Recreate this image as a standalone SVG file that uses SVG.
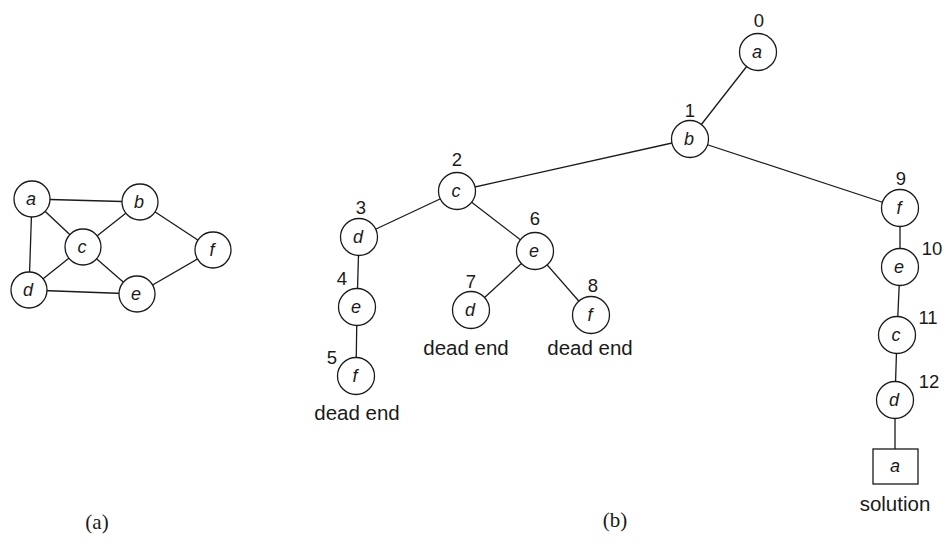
<svg xmlns="http://www.w3.org/2000/svg" width="950" height="552" viewBox="0 0 950 552">
<style>
.e{stroke:#1a1a1a;stroke-width:1.3;fill:none}
.n{fill:#fff;stroke:#1a1a1a;stroke-width:1.3}
.l{font-family:"Liberation Sans",Arial,sans-serif;font-style:italic;font-size:18px;fill:#1a1a1a;text-anchor:middle}
.k{font-family:"Liberation Sans",Arial,sans-serif;font-size:18.5px;fill:#1a1a1a;text-anchor:middle}
.t{font-family:"Liberation Sans",Arial,sans-serif;font-size:20.5px;fill:#1a1a1a;text-anchor:middle}
.c{font-family:"Liberation Serif","Times New Roman",serif;font-size:21px;fill:#1a1a1a;text-anchor:middle}
</style>
<rect width="950" height="552" fill="#fff"/>
<g id="connectors">
<line class="e" x1="32" y1="199" x2="140" y2="202"/>
<line class="e" x1="32" y1="199" x2="83" y2="247"/>
<line class="e" x1="32" y1="199" x2="29" y2="290"/>
<line class="e" x1="140" y1="202" x2="83" y2="247"/>
<line class="e" x1="140" y1="202" x2="213" y2="250"/>
<line class="e" x1="83" y1="247" x2="29" y2="290"/>
<line class="e" x1="83" y1="247" x2="137" y2="294"/>
<line class="e" x1="29" y1="290" x2="137" y2="294"/>
<line class="e" x1="137" y1="294" x2="213" y2="250"/>
<line class="e" x1="758" y1="52" x2="690" y2="139"/>
<line class="e" x1="690" y1="139" x2="457" y2="191"/>
<line class="e" x1="690" y1="139" x2="900" y2="208"/>
<line class="e" x1="457" y1="191" x2="359" y2="237"/>
<line class="e" x1="457" y1="191" x2="535" y2="251"/>
<line class="e" x1="359" y1="237" x2="357" y2="307"/>
<line class="e" x1="357" y1="307" x2="356" y2="376"/>
<line class="e" x1="535" y1="251" x2="471" y2="310"/>
<line class="e" x1="535" y1="251" x2="591" y2="315"/>
<line class="e" x1="900" y1="208" x2="900" y2="267"/>
<line class="e" x1="900" y1="267" x2="897" y2="335"/>
<line class="e" x1="897" y1="335" x2="895" y2="400"/>
<line class="e" x1="895" y1="400" x2="895" y2="449"/>
</g>
<g id="ga"><circle class="n" cx="32" cy="199" r="18"/><text class="l" x="31" y="205">a</text></g>
<g id="gb"><circle class="n" cx="140" cy="202" r="18"/><text class="l" x="139" y="208">b</text></g>
<g id="gc"><circle class="n" cx="83" cy="247" r="18"/><text class="l" x="82" y="253">c</text></g>
<g id="gd"><circle class="n" cx="29" cy="290" r="18"/><text class="l" x="28" y="296">d</text></g>
<g id="ge"><circle class="n" cx="137" cy="294" r="18"/><text class="l" x="136" y="300">e</text></g>
<g id="gf"><circle class="n" cx="213" cy="250" r="18"/><text class="l" x="212" y="256">f</text></g>
<g id="t0"><circle class="n" cx="758" cy="52" r="18.5"/><text class="l" x="757" y="58">a</text><text class="k" x="759" y="27">0</text></g>
<g id="t1"><circle class="n" cx="690" cy="139" r="18.5"/><text class="l" x="689" y="145">b</text><text class="k" x="690" y="117">1</text></g>
<g id="t2"><circle class="n" cx="457" cy="191" r="18.5"/><text class="l" x="456" y="197">c</text><text class="k" x="457" y="166">2</text></g>
<g id="t3"><circle class="n" cx="359" cy="237" r="18.5"/><text class="l" x="358" y="243">d</text><text class="k" x="361" y="214">3</text></g>
<g id="t4"><circle class="n" cx="357" cy="307" r="18.5"/><text class="l" x="356" y="313">e</text><text class="k" x="342" y="285">4</text></g>
<g id="t5"><circle class="n" cx="356" cy="376" r="18.5"/><text class="l" x="355" y="382">f</text><text class="k" x="332" y="364">5</text><text class="t" x="357" y="420">dead end</text></g>
<g id="t6"><circle class="n" cx="535" cy="251" r="18.5"/><text class="l" x="534" y="257">e</text><text class="k" x="535" y="225">6</text></g>
<g id="t7"><circle class="n" cx="471" cy="310" r="18.5"/><text class="l" x="470" y="316">d</text><text class="k" x="471" y="288">7</text><text class="t" x="466" y="355">dead end</text></g>
<g id="t8"><circle class="n" cx="591" cy="315" r="18.5"/><text class="l" x="590" y="321">f</text><text class="k" x="593" y="292">8</text><text class="t" x="590" y="355">dead end</text></g>
<g id="t9"><circle class="n" cx="900" cy="208" r="18.5"/><text class="l" x="899" y="214">f</text><text class="k" x="901" y="185">9</text></g>
<g id="t10"><circle class="n" cx="900" cy="267" r="18.5"/><text class="l" x="899" y="273">e</text><text class="k" x="932" y="255">10</text></g>
<g id="t11"><circle class="n" cx="897" cy="335" r="18.5"/><text class="l" x="896" y="341">c</text><text class="k" x="928" y="324">11</text></g>
<g id="t12"><circle class="n" cx="895" cy="400" r="18.5"/><text class="l" x="894" y="406">d</text><text class="k" x="929" y="388">12</text></g>
<g id="t13"><rect class="n" x="873" y="449" width="45" height="35"/><text class="l" x="895" y="472">a</text><text class="t" x="895" y="511">solution</text></g>
<g id="captions"><text class="c" x="97" y="529">(a)</text><text class="c" x="615" y="527">(b)</text></g>
</svg>
